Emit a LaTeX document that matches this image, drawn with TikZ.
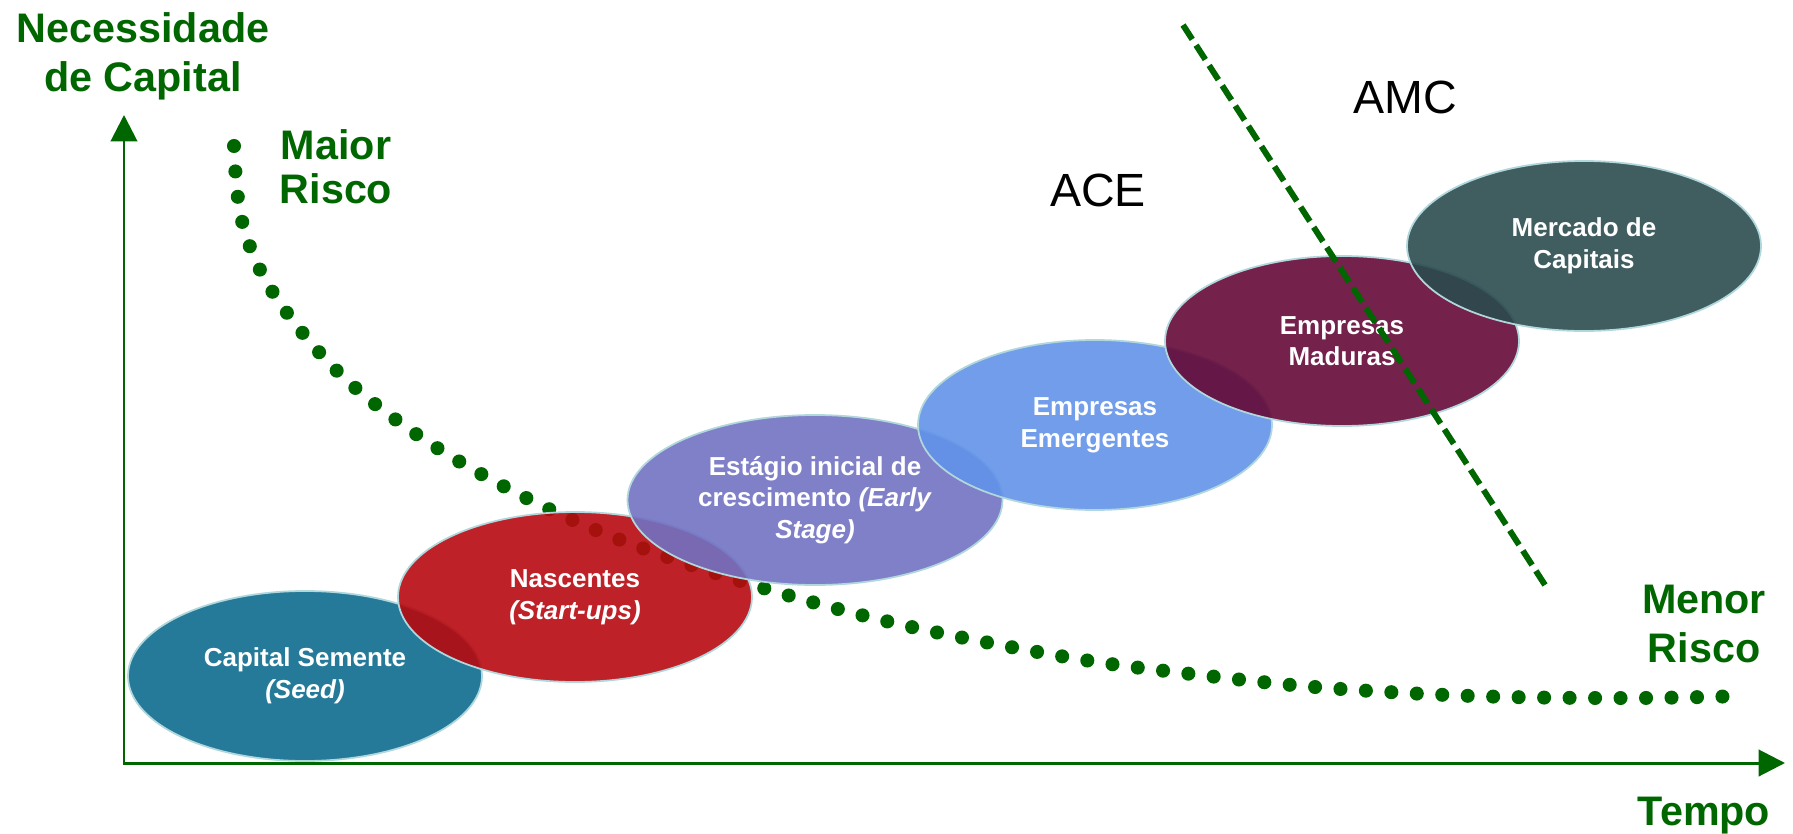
\documentclass[tikz,border=0pt]{standalone}
\usepackage{fontspec}
\setmainfont{Liberation Sans}
\usetikzlibrary{shapes.geometric, arrows.meta}

\definecolor{riskgreen}{RGB}{0,102,0}
\definecolor{stageborder}{RGB}{175,215,220}
\definecolor{seedfill}{RGB}{14,108,142}
\definecolor{startfill}{RGB}{183,9,15}
\definecolor{earlyfill}{RGB}{114,114,195}
\definecolor{emergfill}{RGB}{98,146,233}
\definecolor{maturefill}{RGB}{101,9,55}
\definecolor{marketfill}{RGB}{43,75,79}

\begin{document}
\begin{tikzpicture}[x=0.2mm, y=-0.2mm,
    stage/.style={ellipse, draw=stageborder, line width=1pt, fill opacity=0.9, text opacity=1,
        text=white, align=center, inner sep=0pt, minimum width=7.08cm, minimum height=3.4cm,
        font=\fontsize{14.8}{18}\selectfont\bfseries},
    greenlabel/.style={text=riskgreen, align=center, font=\fontsize{23.5}{28}\selectfont\bfseries},
    zone/.style={font=\fontsize{26.5}{32}\selectfont},
    axis/.style={riskgreen, line width=1.7pt,
        {Triangle[length=15pt, width=15pt]}-{Triangle[length=15pt, width=15pt]}},
    riskdots/.style={riskgreen, line width=8pt, line cap=round, dash pattern=on 0pt off 14.5pt},
    cutline/.style={riskgreen, line width=3.4pt, dash pattern=on 9.7pt off 4pt}]
    \useasboundingbox (0,0) rectangle (1793,834);

    % Axes
    \coordinate (ytop) at (124,115);
    \coordinate (origin) at (124,763);
    \coordinate (xend) at (1785,763);
    \draw[axis] (ytop) -- (origin) -- (xend);

    % Risk curve
    \draw[riskdots] plot[smooth, tension=0.6] coordinates {(234,146) (242,221) (272,291) (336,370)
        (416,434) (505,487) (598,531) (694,566) (794,597) (894,623) (995,644) (1097,662)
        (1200,675) (1303,686) (1406,693) (1510,697) (1639,698) (1743,696)};

    % Stages of the company
    \node[stage, fill=seedfill] (seed) at (305,676) {Capital Semente\\\textit{(Seed)}};
    \node[stage, fill=startfill] (startup) at (575,597) {Nascentes\\\textit{(Start-ups)}};
    \node[stage, fill=earlyfill, minimum width=7.5cm] (early) at (815,500)
        {Estágio inicial de\\crescimento \textit{(Early}\\\textit{Stage)}};
    \node[stage, fill=emergfill] (emerging) at (1095,425) {Empresas\\Emergentes};
    \node[stage, fill=maturefill] (mature) at (1342,341) {Empresas\\Maduras};
    \node[stage, fill=marketfill] (market) at (1584,246) {Mercado de\\Capitais};

    % Border between ACE and AMC
    \coordinate (cuttop) at (1183,25);
    \coordinate (cutbottom) at (1545,585);
    \draw[cutline] (cuttop) -- (cutbottom);

    % Labels
    \node[greenlabel] (capital) at (143,56) {Necessidade\\de Capital};
    \node[greenlabel, font=\fontsize{23.5}{25}\selectfont\bfseries] (maior) at (336,167) {Maior\\Risco};
    \node[greenlabel] (menor) at (1704,624) {Menor\\Risco};
    \node[greenlabel] (tempo) at (1704,816) {Tempo};
    \node[zone] (ace) at (1098,190) {ACE};
    \node[zone] (amc) at (1405,97) {AMC};
\end{tikzpicture}
\end{document}
